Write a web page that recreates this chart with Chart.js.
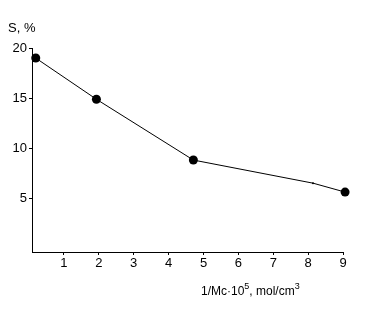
<!DOCTYPE html>
<html lang="en">
<head>
    <meta charset="UTF-8">
    <title>S vs 1/Mc</title>
    <script src="https://cdn.jsdelivr.net/npm/chart.js"></script>
    <style>
        body { margin: 0; background: #fff; }
        canvas { display: block; }
    </style>
</head>
<body>
    <canvas id="chart" width="386" height="314"></canvas>

    <script>
        // values
        const xValues = [0.19, 1.93, 4.71, 8.14, 9.06];
        const sValues = [19.0, 14.9, 8.85, 6.55, 5.66];
        const pointSizes = [4.5, 4.5, 4.5, 1, 4.5];
        const xTicks = [1, 2, 3, 4, 5, 6, 7, 8, 9];
        const yTicks = [5, 10, 15, 20];

        const FONT = "Arial, 'Liberation Sans', sans-serif";

        // axis captions, with superscripts
        const captions = {
            id: 'captions',
            afterDraw(chart) {
                const c = chart.ctx;
                c.save();
                c.fillStyle = '#000';
                c.textBaseline = 'alphabetic';
                c.font = '13px ' + FONT;
                c.fillText('S, %', 8, 32);

                let x = 201;
                const y = 295;
                const part = (txt, size, dy) => {
                    c.font = size + 'px ' + FONT;
                    c.fillText(txt, x, y + dy);
                    x += c.measureText(txt).width;
                };
                part('1/Mc\u00b710', 12, 0);
                part('5', 9, -6);
                part(', mol/cm', 12, 0);
                part('3', 9, -6);
                c.restore();
            }
        };

        const ctx = document.getElementById('chart').getContext('2d');
        new Chart(ctx, {
            type: 'scatter',
            data: {
                datasets: [{
                    data: xValues.map((x, i) => ({ x: x, y: sValues[i] })),
                    showLine: true,
                    clip: false,
                    borderColor: '#000',
                    borderWidth: 1,
                    backgroundColor: '#000',
                    pointRadius: pointSizes,
                    pointBorderWidth: 0,
                    tension: 0
                }]
            },
            options: {
                responsive: false,
                animation: false,
                layout: { padding: { top: 48, right: 43, left: 0, bottom: 0 } },
                plugins: {
                    legend: { display: false },
                    tooltip: { enabled: false }
                },
                scales: {
                    x: {
                        type: 'linear',
                        min: 0.083,
                        max: 9,
                        afterBuildTicks: (axis) => { axis.ticks = xTicks.map(v => ({ value: v })); },
                        afterFit: (axis) => { axis.height = 62; },
                        border: { color: '#000', width: 1 },
                        grid: { drawOnChartArea: false, color: '#000', tickLength: 3 },
                        ticks: { color: '#000', font: { family: FONT, size: 13 }, padding: 1, maxRotation: 0 }
                    },
                    y: {
                        min: -0.3,
                        max: 20,
                        afterBuildTicks: (axis) => { axis.ticks = yTicks.map(v => ({ value: v })); },
                        afterFit: (axis) => { axis.width = 32; },
                        border: { color: '#000', width: 1 },
                        grid: { drawOnChartArea: false, color: '#000', tickLength: 3 },
                        ticks: { color: '#000', font: { family: FONT, size: 13 }, padding: 2 }
                    }
                }
            },
            plugins: [captions]
        });
    </script>
</body>
</html>
